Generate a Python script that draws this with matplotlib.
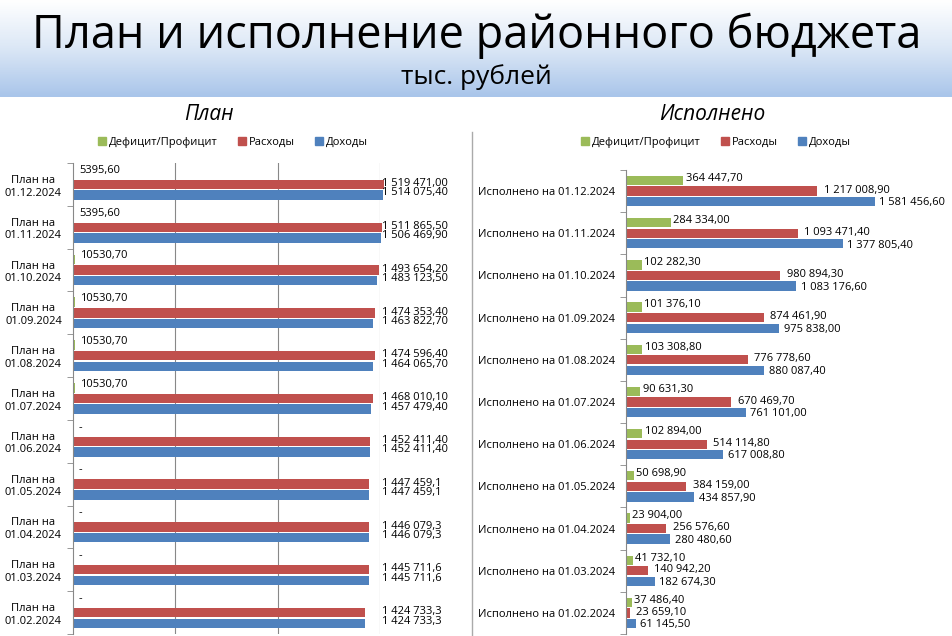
import matplotlib
matplotlib.use("Agg")
import matplotlib.pyplot as plt
import numpy as np
from matplotlib.colors import LinearSegmentedColormap

dates = ['01.12.2024','01.11.2024','01.10.2024','01.09.2024','01.08.2024','01.07.2024',
         '01.06.2024','01.05.2024','01.04.2024','01.03.2024','01.02.2024']
plan_income = [1514075.40,1506469.90,1483123.50,1463822.70,1464065.70,1457479.40,1452411.40,1447459.1,1446079.3,1445711.6,1424733.3]
plan_exp = [1519471.00,1511865.50,1493654.20,1474353.40,1474596.40,1468010.10,1452411.40,1447459.1,1446079.3,1445711.6,1424733.3]
plan_def = [5395.60,5395.60,10530.70,10530.70,10530.70,10530.70,0,0,0,0,0]
plan_dec = [2,2,2,2,2,2,2,1,1,1,1]
exec_income = [1581456.60,1377805.40,1083176.60,975838.00,880087.40,761101.00,617008.80,434857.90,280480.60,182674.30,61145.50]
exec_exp = [1217008.90,1093471.40,980894.30,874461.90,776778.60,670469.70,514114.80,384159.00,256576.60,140942.20,23659.10]
exec_def = [364447.70,284334.00,102282.30,101376.10,103308.80,90631.30,102894.00,50698.90,23904.00,41732.10,37486.40]

GREEN, RED, BLUE = '#9bbb59', '#c0504d', '#4f81bd'
plt.rcParams['font.family'] = 'Open Sans'
FS = 8

def fmt(v, d=2, sep=True):
    s = f"{v:,.{d}f}" if sep else f"{v:.{d}f}"
    return s.replace(',', ' ').replace('.', ',')

fig = plt.figure(figsize=(9.53, 6.36), dpi=100)
W, H = 953, 636
def rect(l, t, r, b):
    return [l / W, 1 - b / H, (r - l) / W, (b - t) / H]

hax = fig.add_axes(rect(0, 0, 953, 97))
grad = np.linspace(0, 1, 100).reshape(-1, 1)
cm = LinearSegmentedColormap.from_list('g', ['#ffffff', '#dbe7f6', '#a9c5ea'])
hax.imshow(grad, aspect='auto', cmap=cm, extent=[0, 1, 0, 1])
hax.set_axis_off()
fig.text(0.5, 1 - 36 / H, 'План и исполнение районного бюджета', ha='center', va='center', fontsize=32.5)
fig.text(0.5, 1 - 77 / H, 'тыс. рублей', ha='center', va='center', fontsize=19)

fig.text(209 / W, 1 - 114 / H, 'План', ha='center', va='center', fontsize=15, style='italic')
fig.text(712 / W, 1 - 114 / H, 'Исполнено', ha='center', va='center', fontsize=15, style='italic')
fig.add_artist(plt.Line2D([472 / W, 472 / W], [1 - 132 / H, 1 - 636 / H], color='#aaaaaa', lw=1))

def legend(cx):
    items = [('Дефицит/Профицит', GREEN), ('Расходы', RED), ('Доходы', BLUE)]
    fig.legend([plt.Rectangle((0, 0), 1, 1, color=c) for _, c in items], [n for n, _ in items],
               loc='center', bbox_to_anchor=(cx / W, 1 - 142 / H), ncol=3, frameon=False,
               fontsize=FS, handlelength=0.7, handleheight=0.7, handletextpad=0.3, columnspacing=1.8)
legend(233)
legend(716)

n = len(dates)
y = np.arange(n)
bh = 0.22
off = 0.25

def setup(ax, xmax, labels):
    ax.set_xlim(0, xmax)
    ax.set_ylim(n - 0.5, -0.5)
    ax.set_yticks(y)
    ax.set_yticklabels(labels, fontsize=FS)
    ax.set_yticks(np.arange(-0.5, n, 1), minor=True)
    ax.tick_params(axis='y', which='major', length=0, pad=8)
    ax.tick_params(axis='y', which='minor', length=4, color='#888888')
    ax.set_xticks([])
    for s in ['top', 'right', 'bottom']:
        ax.spines[s].set_visible(False)
    ax.spines['left'].set_color('#888888')

ax1 = fig.add_axes(rect(73, 163, 380, 634))
setup(ax1, 1500000, ['План на\n' + d for d in dates])
for lab in ax1.get_yticklabels():
    lab.set_multialignment('center')
for g in [500000, 1000000, 1500000]:
    ax1.axvline(g, color='#888888', lw=0.8, zorder=0)
ax1.barh(y - off, plan_def, bh, color=GREEN, clip_on=False)
ax1.barh(y, plan_exp, bh, color=RED, clip_on=False)
ax1.barh(y + off, plan_income, bh, color=BLUE, clip_on=False)
for i in range(n):
    t = fmt(plan_def[i], 2, sep=False) if plan_def[i] else '-'
    ax1.text(plan_def[i] + 25000, y[i] - off - 0.08, t, fontsize=FS, va='center')
    ax1.text(1512000, y[i] - 0.02, fmt(plan_exp[i], plan_dec[i]), fontsize=FS, va='center', ha='left')
    ax1.text(1512000, y[i] + off - 0.05, fmt(plan_income[i], plan_dec[i]), fontsize=FS, va='center', ha='left')

ax2 = fig.add_axes(rect(626, 170, 950, 634))
setup(ax2, 2060000, ['Исполнено на ' + d for d in dates])
ax2.barh(y - off, exec_def, bh, color=GREEN)
ax2.barh(y, exec_exp, bh, color=RED)
ax2.barh(y + off, exec_income, bh, color=BLUE)
for i in range(n):
    ax2.text(exec_def[i] + 15000, y[i] - off - 0.05, fmt(exec_def[i]), fontsize=FS, va='center')
    ax2.text(exec_exp[i] + 40000, y[i] - 0.02, fmt(exec_exp[i]), fontsize=FS, va='center')
    ax2.text(exec_income[i] + 30000, y[i] + off + 0.03, fmt(exec_income[i]), fontsize=FS, va='center')

fig.savefig('out.png', dpi=100)
